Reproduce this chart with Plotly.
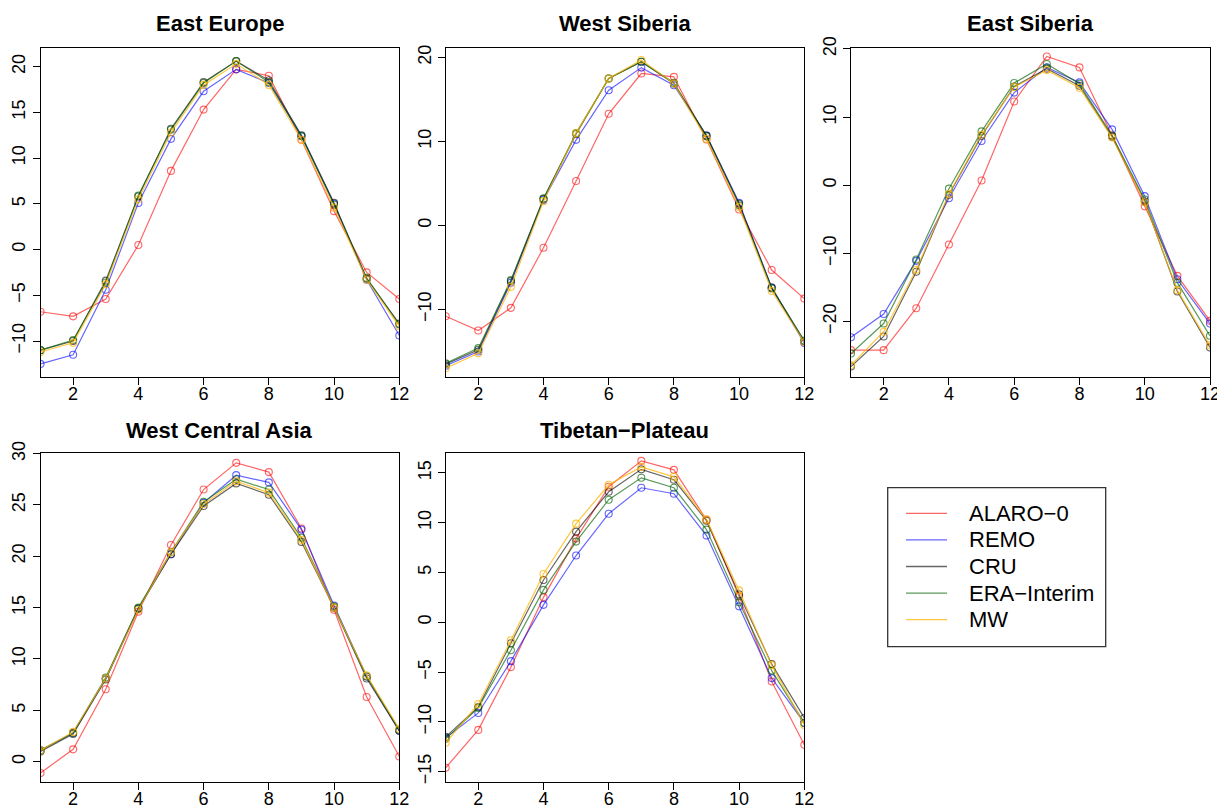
import plotly.graph_objects as go

months = list(range(1, 13))
models = ["ALARO−0", "REMO", "CRU", "ERA−Interim", "MW"]
regions = ["East Europe", "West Siberia", "East Siberia", "West Central Asia", "Tibetan−Plateau"]
x_tick_values = [2, 4, 6, 8, 10, 12]

# East Europe
ee_alaro = [-6.8, -7.3, -5.4, 0.5, 8.6, 15.3, 19.7, 19.0, 12.0, 4.2, -2.5, -5.4]
ee_remo = [-12.5, -11.5, -4.4, 5.1, 12.1, 17.3, 19.7, 18.2, 12.4, 5.0, -3.3, -9.4]
ee_cru = [-11.0, -10.0, -3.4, 5.8, 13.2, 18.3, 20.6, 18.5, 12.5, 5.1, -3.2, -8.1]
ee_era = [-11.0, -9.9, -3.6, 5.9, 13.1, 18.2, 20.6, 18.3, 12.4, 4.9, -3.1, -8.2]
ee_mw = [-11.2, -10.2, -3.8, 5.5, 12.8, 18.0, 20.3, 18.0, 12.0, 4.6, -3.3, -8.4]

# West Siberia
ws_alaro = [-10.8, -12.5, -9.8, -2.65, 5.3, 13.3, 18.1, 17.7, 10.25, 1.9, -5.3, -8.7]
ws_remo = [-16.7, -15.0, -6.8, 3.05, 10.2, 16.1, 18.8, 16.7, 10.7, 2.7, -7.4, -14.0]
ws_cru = [-16.5, -14.8, -6.6, 3.2, 10.9, 17.5, 19.5, 16.9, 10.7, 2.6, -7.4, -13.8]
ws_era = [-16.4, -14.6, -6.5, 3.2, 11.0, 17.5, 19.5, 17.0, 10.6, 2.4, -7.5, -13.7]
ws_mw = [-17.0, -15.2, -7.3, 2.9, 11.0, 17.5, 19.7, 16.9, 10.3, 2.2, -7.8, -13.9]

# East Siberia
es_alaro = [-24.2, -24.2, -18.05, -8.7, 0.7, 12.3, 18.9, 17.3, 7.3, -3.1, -13.3, -19.9]
es_remo = [-22.3, -18.9, -11.1, -1.9, 6.5, 13.6, 17.3, 15.1, 8.2, -1.6, -13.8, -20.3]
es_cru = [-26.6, -22.2, -12.7, -1.4, 7.25, 14.5, 17.1, 14.6, 7.1, -2.4, -15.6, -23.8]
es_era = [-24.7, -20.3, -10.9, -0.5, 7.9, 15.0, 17.8, 14.9, 7.3, -2.1, -14.3, -22.1]
es_mw = [-26.4, -21.5, -12.4, -1.3, 7.4, 14.4, 16.9, 14.3, 7.0, -2.5, -15.4, -23.5]

# West Central Asia
wca_alaro = [-1.1, 1.2, 7.05, 14.6, 21.1, 26.5, 29.1, 28.2, 22.7, 14.8, 6.3, 0.5]
wca_remo = [1.1, 2.8, 8.1, 14.9, 20.2, 25.2, 27.9, 27.2, 22.6, 15.2, 8.3, 3.0]
wca_cru = [1.0, 2.7, 8.0, 14.9, 20.2, 24.9, 27.1, 26.0, 21.4, 15.0, 8.1, 3.0]
wca_era = [1.1, 2.8, 8.2, 15.0, 20.4, 25.3, 27.5, 26.5, 21.8, 15.1, 8.3, 3.1]
wca_mw = [1.1, 2.9, 8.1, 14.8, 20.4, 25.1, 27.3, 26.2, 21.6, 15.0, 8.4, 3.2]

# Tibetan Plateau
tp_alaro = [-14.6, -10.8, -4.5, 2.5, 8.4, 13.6, 16.2, 15.3, 10.3, 2.6, -5.95, -12.3]
tp_remo = [-11.6, -9.1, -3.9, 1.75, 6.7, 10.9, 13.5, 12.9, 8.7, 1.6, -5.6, -10.1]
tp_cru = [-11.5, -8.5, -2.1, 4.25, 9.1, 13.1, 15.35, 14.3, 10.2, 2.8, -4.2, -9.6]
tp_era = [-11.7, -8.6, -2.8, 3.25, 8.1, 12.3, 14.5, 13.5, 9.3, 2.0, -4.85, -10.1]
tp_mw = [-12.1, -8.2, -1.8, 4.85, 9.9, 13.8, 15.6, 14.6, 10.3, 3.2, -4.3, -10.3]

region_series = [
    [ee_alaro, ee_remo, ee_cru, ee_era, ee_mw],
    [ws_alaro, ws_remo, ws_cru, ws_era, ws_mw],
    [es_alaro, es_remo, es_cru, es_era, es_mw],
    [wca_alaro, wca_remo, wca_cru, wca_era, wca_mw],
    [tp_alaro, tp_remo, tp_cru, tp_era, tp_mw],
]

# ---- styling / layout ----
# the page places the figure 8px from the top-left of the window,
# so the figure is 8px smaller and all target pixel positions are offset.
OFF = 8
W, H = 1225 - OFF, 810 - OFF
colors = [
    "rgba(255,0,0,0.6)",
    "rgba(0,0,255,0.6)",
    "rgba(0,0,0,0.6)",
    "rgba(0,100,0,0.65)",
    "rgba(255,180,0,0.75)",
]
FONT = "Liberation Sans, Arial, sans-serif"

def fx(a):
    return (a - OFF) / W

def fy(a):
    return 1 - (a - OFF) / H

def px_x(a, b):
    return [fx(a), fx(b)]

def px_y(top, bottom):
    return [fy(bottom), fy(top)]

xdoms = [px_x(40.5, 399.3), px_x(445.7, 804.3), px_x(851, 1210),
         px_x(40.5, 399.3), px_x(445.7, 804.3)]
ydoms = [px_y(48.3, 376.7)] * 3 + [px_y(453.3, 781.7)] * 2
yranges = [[-13.9, 22.0], [-18.0, 21.1], [-28.1, 20.1], [-1.95, 30.03], [-16.0, 16.96]]
dticks = [5, 10, 10, 5, 5]
title_y = [24, 24, 24, 430, 430]

fig = go.Figure()
for p in range(5):
    xa = "x" if p == 0 else f"x{p+1}"
    ya = "y" if p == 0 else f"y{p+1}"
    for s in range(5):
        fig.add_trace(go.Scatter(
            x=months, y=region_series[p][s], xaxis=xa, yaxis=ya,
            mode="lines+markers", name=models[s], showlegend=False,
            line=dict(color=colors[s], width=1.2),
            marker=dict(symbol="circle-open", size=7, color=colors[s], line=dict(width=1.1)),
        ))

axis_common = dict(
    ticks="outside", ticklen=7, tickwidth=1, tickcolor="black",
    showline=True, linecolor="black", linewidth=1, mirror=True,
    showgrid=False, zeroline=False, automargin=False,
    tickfont=dict(size=18, family=FONT, color="black"),
)

annotations = []
shapes = []
for p in range(5):
    xk = "xaxis" if p == 0 else f"xaxis{p+1}"
    yk = "yaxis" if p == 0 else f"yaxis{p+1}"
    ya = "y" if p == 0 else f"y{p+1}"
    xa = "x" if p == 0 else f"x{p+1}"
    fig.layout[xk] = dict(domain=xdoms[p], anchor=ya, range=[1, 12],
                          tickvals=x_tick_values, ticklabelstandoff=-6, **axis_common)
    fig.layout[yk] = dict(domain=ydoms[p], anchor=xa, range=yranges[p],
                          dtick=dticks[p], tick0=0, tickangle=-90, **axis_common)
    annotations.append(dict(
        text=f"<b>{regions[p]}</b>", x=sum(xdoms[p]) / 2, y=fy(title_y[p]),
        xref="paper", yref="paper", showarrow=False, xanchor="center", yanchor="middle",
        font=dict(size=22, family=FONT, color="black"),
    ))

# legend box (drawn to match R's legend geometry)
LEG_L, LEG_R, LEG_T, LEG_B = 887.7, 1105.7, 487.7, 646.7
shapes.append(dict(type="rect", xref="paper", yref="paper",
                   x0=fx(LEG_L), x1=fx(LEG_R), y0=fy(LEG_B), y1=fy(LEG_T),
                   line=dict(color="#333333", width=1.3), fillcolor="white"))
row0, row_step = 513.3, 26.6
for s in range(5):
    yy = fy(row0 + s * row_step)
    shapes.append(dict(type="line", xref="paper", yref="paper",
                       x0=fx(906), x1=fx(947), y0=yy, y1=yy,
                       line=dict(color=colors[s], width=1.3)))
    annotations.append(dict(
        text=models[s], x=fx(967), y=yy, xref="paper", yref="paper",
        showarrow=False, xanchor="left", yanchor="middle",
        font=dict(size=22, family=FONT, color="black"),
    ))

fig.update_layout(
    width=W, height=H,
    margin=dict(l=0, r=0, t=0, b=0),
    paper_bgcolor="white", plot_bgcolor="white",
    annotations=annotations, shapes=shapes,
    showlegend=False,
)

fig.write_html("out.html")
